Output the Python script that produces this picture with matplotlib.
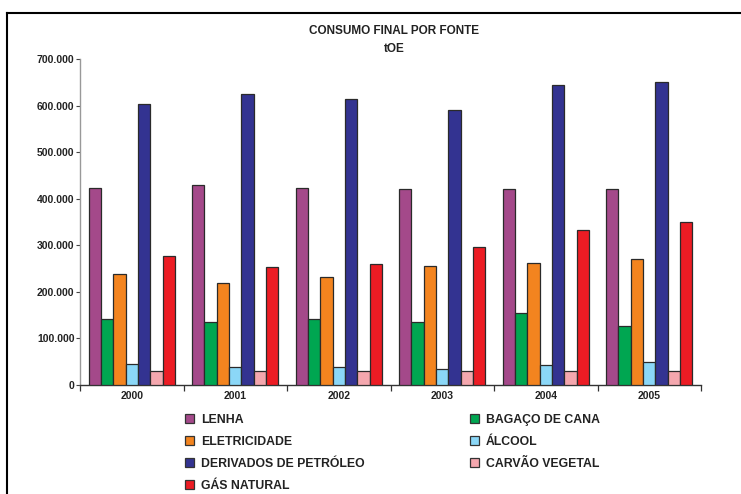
import matplotlib
matplotlib.use("Agg")
import matplotlib.pyplot as plt
import numpy as np
from matplotlib.patches import Patch
from matplotlib import font_manager
from matplotlib.ticker import FuncFormatter

names = {f.name for f in font_manager.fontManager.ttflist}
FAM = ['Liberation Sans Narrow', 'DejaVu Sans'] if 'Liberation Sans Narrow' in names else ['Liberation Sans', 'DejaVu Sans']
plt.rcParams['font.family'] = FAM

years = ['2000', '2001', '2002', '2003', '2004', '2005']
series = ['LENHA', 'BAGAÇO DE CANA', 'ELETRICIDADE', 'ÁLCOOL',
          'DERIVADOS DE PETRÓLEO', 'CARVÃO VEGETAL', 'GÁS NATURAL']
lenha = [423000, 430000, 423000, 421000, 421000, 421000]
bagaco = [142000, 135000, 142000, 135000, 154000, 127000]
eletricidade = [239000, 220000, 232000, 256000, 262000, 270000]
alcool = [46000, 38000, 38000, 35000, 44000, 49000]
derivados = [603000, 626000, 615000, 590000, 645000, 651000]
carvao = [30000, 30000, 30000, 30000, 30000, 30000]
gas = [277000, 253000, 259000, 297000, 333000, 350000]
colors = ['#A4498A', '#00A651', '#F3841F', '#8BD7F7', '#333391', '#F4A7AE', '#EC1C24']
yticks = [0, 100000, 200000, 300000, 400000, 500000, 600000, 700000]

data = [lenha, bagaco, eletricidade, alcool, derivados, carvao, gas]

fig = plt.figure(figsize=(7.41, 4.94), dpi=100)
W, H = 741, 494
ax = fig.add_axes([80 / W, 1 - 385 / H, (701 - 80) / W, (385 - 59.3) / H])

x = np.arange(len(years))
bw = 0.119
for j, (vals, c) in enumerate(zip(data, colors)):
    ax.bar(x + (j - 3) * bw, vals, width=bw, color=c, edgecolor='#2a2a2a',
           linewidth=0.9, zorder=3)

ax.set_xlim(-0.5, len(years) - 0.5)
ax.set_ylim(0, 700000)
ax.set_yticks(yticks)
ax.yaxis.set_major_formatter(FuncFormatter(lambda v, p: '0' if v == 0 else f'{int(v):,}'.replace(',', '.')))
ax.set_xticks(x)
ax.set_xticklabels(years)
ax.set_xticks(np.arange(-0.5, len(years), 1.0), minor=True)
ax.tick_params(axis='x', which='major', length=0, pad=4, labelsize=7.5)
ax.tick_params(axis='x', which='minor', length=4, width=0.9, color='#333333', direction='out')
ax.tick_params(axis='y', length=3, width=0.8, color='#444444', pad=1, labelsize=7.5)
for lbl in ax.get_xticklabels() + ax.get_yticklabels():
    lbl.set_fontweight('bold')
    lbl.set_color('#222222')
ax.spines['top'].set_visible(False)
ax.spines['right'].set_visible(False)
ax.spines['left'].set_color('#999999')
ax.spines['left'].set_linewidth(1.0)
ax.spines['bottom'].set_color('#333333')
ax.spines['bottom'].set_linewidth(1.0)

fig.text(394 / W, 1 - 31 / H, 'CONSUMO FINAL POR FONTE', ha='center', va='center',
         fontsize=8.5, fontweight='bold', color='#222222')
fig.text(394 / W, 1 - 49 / H, 'tOE', ha='center', va='center',
         fontsize=8.5, fontweight='bold', color='#222222')

# border lines
fig.add_artist(plt.Line2D([7 / W, 1.0], [1 - 13 / H, 1 - 13 / H], color='black', lw=1.5, transform=fig.transFigure))
fig.add_artist(plt.Line2D([7 / W, 7 / W], [0, 1 - 13 / H], color='black', lw=1.5, transform=fig.transFigure))

handles = [Patch(facecolor=c, edgecolor='#333333', linewidth=0.9) for c in colors]
col1 = [0, 2, 4, 6]
col2 = [1, 3, 5]
for idxs, xpos in [(col1, 185), (col2, 470)]:
    leg = fig.legend([handles[i] for i in idxs], [series[i] for i in idxs],
                     loc='upper left', bbox_to_anchor=(xpos / W, 1 - 413.5 / H),
                     frameon=False, ncol=1, handlelength=0.75, handleheight=0.75,
                     handletextpad=0.55, labelspacing=0.83, borderaxespad=0,
                     borderpad=0, prop={'family': FAM, 'weight': 'bold', 'size': 8.8})
    for t in leg.get_texts():
        t.set_color('#222222')

fig.savefig('out.png', dpi=100)
